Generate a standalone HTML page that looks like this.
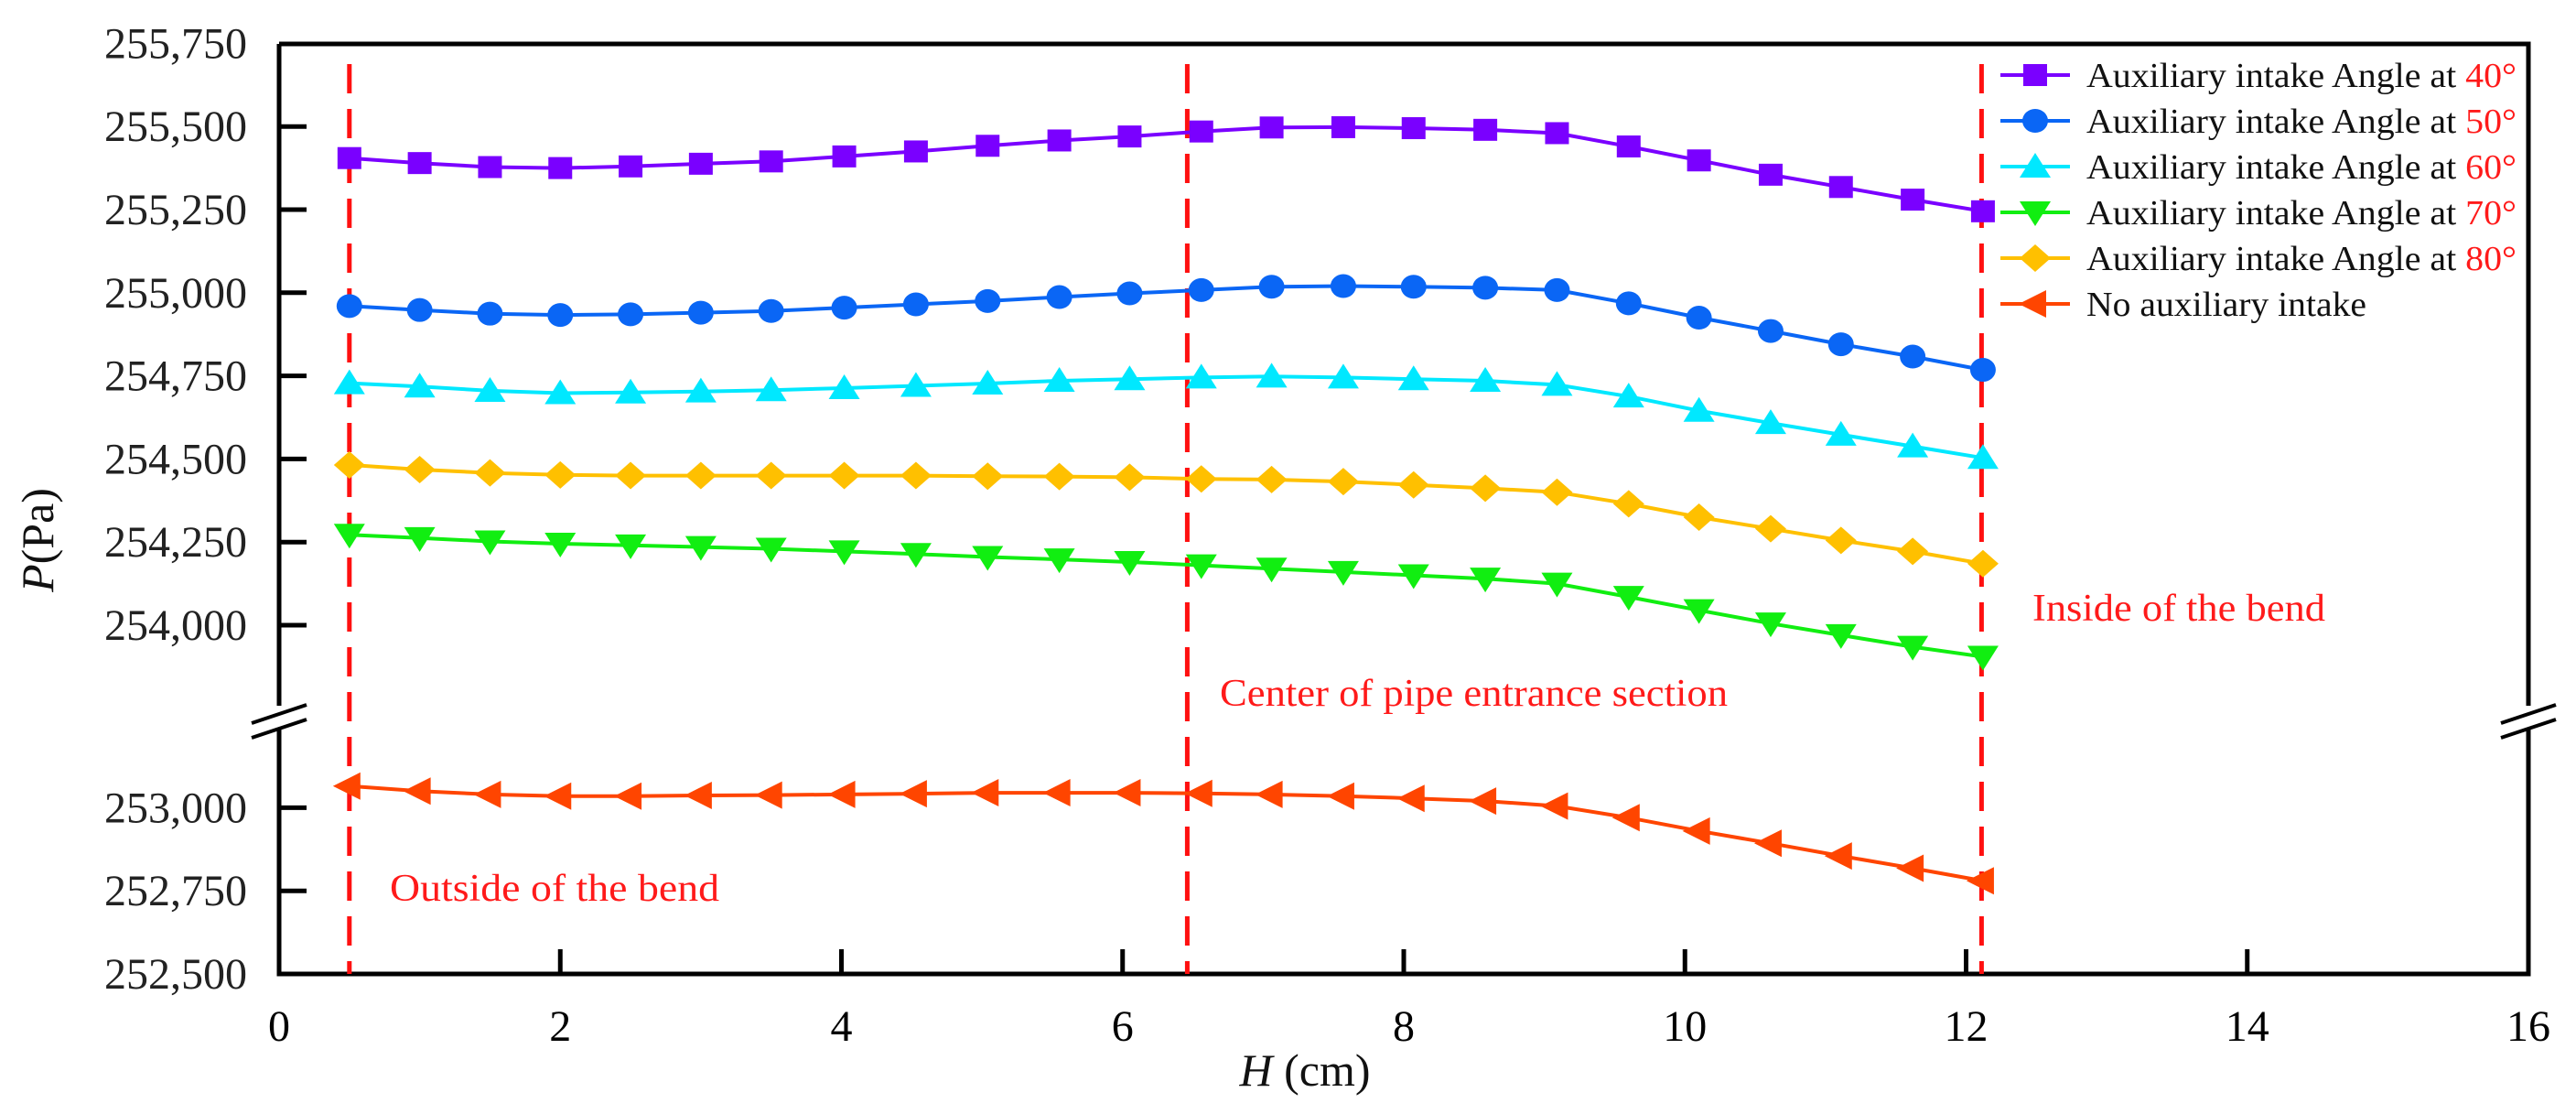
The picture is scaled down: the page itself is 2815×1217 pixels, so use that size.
<!DOCTYPE html>
<html><head><meta charset="utf-8"><style>
html,body{margin:0;padding:0;background:#fff;}
svg{display:block;font-family:"Liberation Serif",serif;}
</style></head><body>
<svg id="chart" width="2815" height="1217" viewBox="0 0 2815 1217" xmlns="http://www.w3.org/2000/svg">
<g id="plot"></g>
</svg>
<script>
const xs = [0.5,1.0,1.5,2.0,2.5,3.0,3.5,4.02,4.53,5.04,5.55,6.05,6.56,7.06,7.57,8.07,8.58,9.09,9.6,10.1,10.61,11.11,11.62,12.12];
const s40 = [255405,255390,255378,255375,255380,255388,255395,255410,255425,255442,255458,255470,255485,255497,255498,255495,255490,255480,255440,255398,255355,255318,255280,255245];
const s50 = [254960,254948,254937,254933,254935,254940,254945,254955,254965,254975,254987,254998,255008,255018,255020,255018,255015,255008,254968,254925,254885,254845,254808,254768];
const s60 = [254728,254718,254705,254698,254700,254703,254707,254713,254720,254727,254735,254740,254745,254748,254745,254740,254735,254723,254688,254645,254608,254573,254538,254503];
const s70 = [254272,254262,254252,254245,254240,254235,254230,254222,254214,254205,254198,254190,254180,254170,254160,254150,254140,254125,254085,254045,254005,253970,253935,253905];
const s80 = [254482,254468,254458,254452,254450,254450,254450,254450,254450,254448,254447,254445,254440,254438,254432,254422,254412,254400,254365,254325,254290,254255,254222,254185];
const sNone = [253065,253050,253040,253035,253035,253037,253038,253040,253042,253045,253045,253045,253043,253040,253035,253028,253020,253005,252970,252930,252893,252855,252818,252780];
const xTicks = [0,2,4,6,8,10,12,14,16];
const yTicksUpper = [254000,254250,254500,254750,255000,255250,255500,255750];
const yTicksLower = [252500,252750,253000];
const guideXs = [0.5,6.46,12.11];
const seriesNames = ["40°","50°","60°","70°","80°","none"];

const NS="http://www.w3.org/2000/svg";
const g=document.getElementById('plot');
const L=305,R=2763,T=48,B=1064;
function X(v){return L+(v-0)*(R-L)/16;}
const K=0.3632;
function Y(v){ return v>=253500 ? 683-(v-254000)*K : B-(v-252500)*K; }
function mk(tag,attrs,parent){const e=document.createElementNS(NS,tag);for(const k in attrs)e.setAttribute(k,attrs[k]);(parent||g).appendChild(e);return e;}

// axes frame
const frame=mk('path',{d:`M${L},${T} H${R} V771 M${R},797 V${B} H${L} V797 M${L},771 V${T}`,fill:'none',stroke:'#000','stroke-width':5});


// break marks
[L,R].forEach((bx,i)=>{
  const b=mk('path',{d:`M${bx-30},${790} L${bx+30},${770} M${bx-30},${806} L${bx+30},${786}`,stroke:'#000','stroke-width':4,fill:'none'});
  
  
});

// x ticks
xTicks.forEach(v=>{
  const x=X(v);
  if(v>0&&v<16){const t=mk('line',{x1:x,x2:x,y1:B,y2:B-27,stroke:'#000','stroke-width':5});
  
  }
  const lb=mk('text',{x:x,y:1137,'font-size':48,'text-anchor':'middle',fill:'#000'});
  lb.textContent=String(v);
  
  
});
// y ticks
yTicksUpper.concat(yTicksLower).forEach(v=>{
  const y=Y(v);
  if(y>T+2&&y<B-2){const t=mk('line',{x1:L,x2:L+30,y1:y,y2:y,stroke:'#000','stroke-width':5});
  
  }
  const lb=mk('text',{x:270,y:y+16,'font-size':48,'text-anchor':'end',fill:'#222'});
  lb.textContent=v.toLocaleString('en-US');
  
  
});

// guide dashed lines
guideXs.forEach(v=>{
  const d=mk('line',{x1:X(v),x2:X(v),y1:70,y2:B,stroke:'#ff1010','stroke-width':5,'stroke-dasharray':'32,17'});
  
  
});

const colors=['#7a00ff','#0a66f5','#00e8ff','#11ee11','#ffc000','#ff4500'];
const shapes=['square','circle','up','down','diamond','left'];
function marker(shape,cx,cy,color,parent){
  let e;
  if(shape==='square') e=mk('rect',{x:cx-13,y:cy-12,width:26,height:24,fill:color},parent);
  else if(shape==='circle') e=mk('ellipse',{cx:cx,cy:cy,rx:14,ry:13,fill:color},parent);
  else if(shape==='up') e=mk('polygon',{points:`${cx},${cy-15} ${cx+17},${cy+12} ${cx-17},${cy+12}`,fill:color},parent);
  else if(shape==='down') e=mk('polygon',{points:`${cx-17},${cy-12} ${cx+17},${cy-12} ${cx},${cy+15}`,fill:color},parent);
  else if(shape==='diamond') e=mk('polygon',{points:`${cx},${cy-15} ${cx+17},${cy} ${cx},${cy+15} ${cx-17},${cy}`,fill:color},parent);
  else e=mk('polygon',{points:`${cx-18},${cy} ${cx+12},${cy-15} ${cx+12},${cy+15}`,fill:color},parent);
  return e;
}
const allSeries=[s40,s50,s60,s70,s80,sNone];
allSeries.forEach((s,i)=>{
  const grp=mk('g',{});
  
  
  const pts=s.map((v,j)=>`${X(xs[j]).toFixed(1)},${Y(v).toFixed(1)}`).join(' ');
  const pl=mk('polyline',{points:pts,fill:'none',stroke:colors[i],'stroke-width':4},grp);
  
  
  s.forEach((v,j)=>{
    const m=marker(shapes[i],X(xs[j]),Y(v),colors[i],grp);
    
    
  });
});

// legend
const labels=['40°','50°','60°','70°','80°',null];
labels.forEach((lab,i)=>{
  const y=82+i*50;
  const lg=mk('g',{});
  
  
  mk('line',{x1:2186,x2:2262,y1:y,y2:y,stroke:colors[i],'stroke-width':4},lg);
  marker(shapes[i],2224,y,colors[i],lg);
  const t=mk('text',{x:2280,y:y+13,'font-size':38,fill:'#111'},lg);
  if(lab){
    t.setAttribute('textLength',470);
    t.setAttribute('lengthAdjust','spacingAndGlyphs');
    const a=mk('tspan',{},t);a.textContent='Auxiliary intake Angle at ';
    const b=mk('tspan',{fill:'#ff1a1a'},t);b.textContent=lab;
  } else {
    t.setAttribute('textLength',306);
    t.setAttribute('lengthAdjust','spacingAndGlyphs');
    t.textContent='No auxiliary intake';
  }
});

// annotations
function ann(txt,x,y,len,name){
  const t=mk('text',{x:x,y:y,'font-size':42,fill:'#ff1a1a',textLength:len,lengthAdjust:'spacingAndGlyphs'});
  t.textContent=txt;
  
  
}
ann('Inside of the bend',2221,678,320,'inside-bend-label');
ann('Center of pipe entrance section',1333,771,555,'center-section-label');
ann('Outside of the bend',426,984,360,'outside-bend-label');

// axis titles
const xt=mk('text',{x:1426,y:1186,'font-size':50,'text-anchor':'middle',fill:'#111'});
xt.innerHTML='<tspan font-style="italic">H</tspan> (cm)';


const yt=mk('text',{x:0,y:0,'font-size':50,'text-anchor':'middle',fill:'#111',transform:'translate(58,590) rotate(-90)'});
yt.innerHTML='<tspan font-style="italic">P</tspan>(Pa)';


</script>
</body></html>
